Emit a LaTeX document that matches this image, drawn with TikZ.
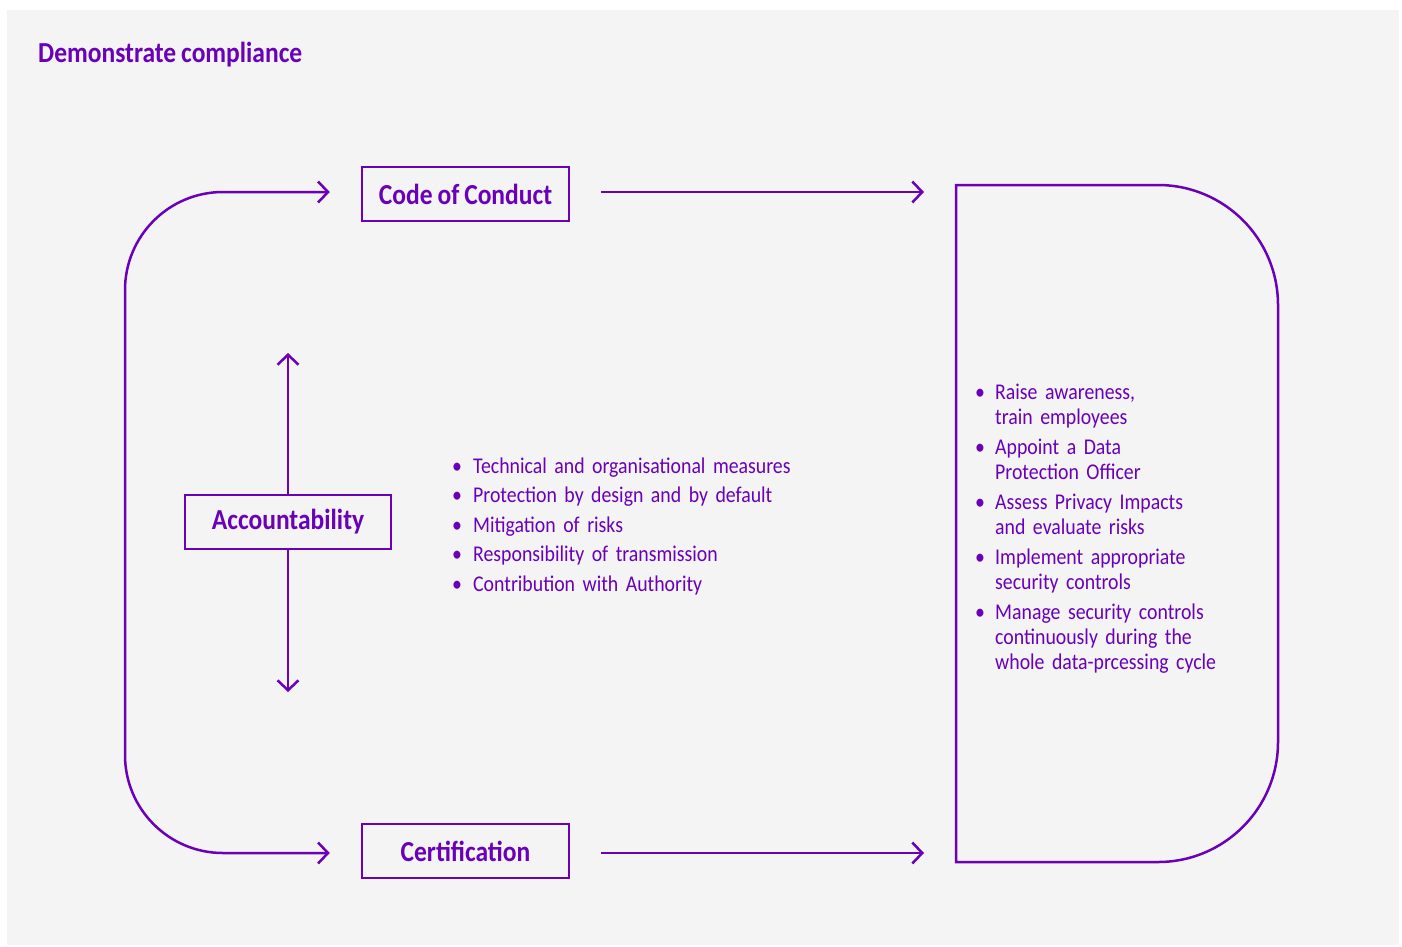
\documentclass[tikz,border=0pt]{standalone}
\usepackage{fontspec}
\setmainfont{Carlito}[FakeStretch=0.88, WordSpace=0.85]
\usetikzlibrary{arrows.meta}
\definecolor{pur}{RGB}{106,0,184}
\definecolor{bgpanel}{HTML}{F4F4F4}
\newlength\bw
\newcommand\bitem[1]{\par\noindent\hangindent=\bw\hangafter=1\makebox[\bw][l]{\textbullet}#1}
\tikzset{
  conn/.style={draw=pur, line width=2.5pt, -{Straight Barb[length=10pt,width=21pt]}},
  labelbox/.style={draw=pur, line width=2.5pt, text=pur, font=\fontsize{29}{33}\selectfont\bfseries, minimum width=207pt, minimum height=54pt, inner sep=0pt},
  listtext/.style={text=pur, inner sep=0pt, anchor=north west}
}
\begin{document}
\begin{tikzpicture}[x=1pt,y=-1pt]
\useasboundingbox (0,0) rectangle (1402,946);
\fill[white] (0,0) rectangle (1402,946);
\fill[bgpanel] (7,10) rectangle (1399,945);
% title
\node[anchor=base west, inner sep=0pt, text=pur, font=\fontsize{29}{34}\selectfont\bfseries] (title) at (38,62) {Demonstrate compliance};
% boxes
\node[labelbox] (coc) at (465.5,194) {Code of Conduct};
\node[labelbox] (cert) at (465.5,851) {Certification};
\node[labelbox, minimum width=206pt] (acc) at (288,522) {Accountability};
% right box
\coordinate (rbtl) at (956,185);
\coordinate (rbbl) at (956,862);
\draw[pur, line width=2.5pt] (rbtl) -- (1158,185) arc[start angle=90, end angle=0, radius=120pt]
  -- (1278,742) arc[start angle=0, end angle=-90, radius=120pt] -- (rbbl) -- cycle;
% left loop
\draw[pur, line width=2.5pt, {Straight Barb[length=10pt,width=21pt]}-{Straight Barb[length=10pt,width=21pt]}, rounded corners=98pt]
  ([xshift=-31pt,yshift=2pt]coc.west) -- (125,192) -- (125,853) -- ([xshift=-31pt,yshift=-2pt]cert.west);
% right arrows
\draw[conn] ([xshift=31pt,yshift=2pt]coc.east) -- ([xshift=-32pt]rbtl |- 0,192);
\draw[conn] ([xshift=31pt,yshift=-2pt]cert.east) -- ([xshift=-32pt]rbtl |- 0,853);
% accountability arrows
\coordinate (accup) at (288,353);
\coordinate (accdown) at (288,692);
\draw[conn] (acc.north) -- (accup);
\draw[conn] (acc.south) -- (accdown);
% middle list
\node[listtext, text width=420pt, font=\fontsize{22.5}{29.5}\selectfont] (mid) at (452,443.4) {%
\raggedright\setlength\bw{21pt}%
\bitem{\strut Technical and organisational measures}
\bitem{Protection by design and by default}
\bitem{Mitigation of risks}
\bitem{Responsibility of transmission}
\bitem{Contribution with Authority}\par};
% right list
\node[listtext, text width=300pt, font=\fontsize{22.5}{25}\selectfont] (rl) at (975,369.5) {%
\raggedright\setlength\bw{20pt}\setlength\parskip{5pt}%
\bitem{\strut Raise awareness,\newline train employees}
\bitem{Appoint a Data\newline Protection Officer}
\bitem{Assess Privacy Impacts\newline and evaluate risks}
\bitem{Implement appropriate\newline security controls}
\bitem{Manage security controls\newline continuously during the\newline whole data-prcessing cycle}\par};
\end{tikzpicture}
\end{document}
